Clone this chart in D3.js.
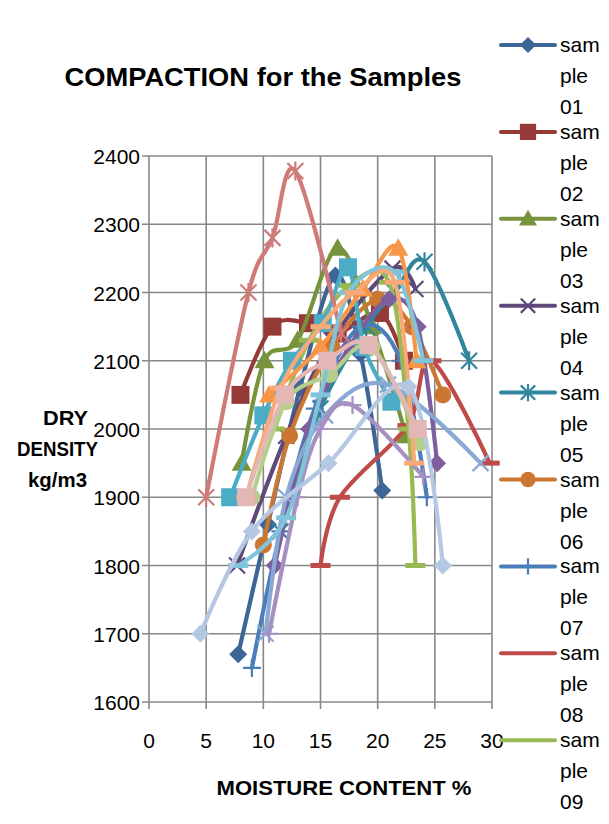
<!DOCTYPE html>
<html><head><meta charset="utf-8">
<script src="https://cdn.jsdelivr.net/npm/d3@7"></script>
<style>html,body{margin:0;padding:0;background:#fff;}</style>
</head><body>
<svg id="chart" width="609" height="824"></svg>
<script>
// ---- data ----
const chartTitle = "COMPACTION for the Samples";
const xTitle = "MOISTURE CONTENT %";
const yTitleLines = ["DRY", "DENSITY", "kg/m3"];
const xTicks = [0, 5, 10, 15, 20, 25, 30];
const yTicks = [1600, 1700, 1800, 1900, 2000, 2100, 2200, 2300, 2400];
const seriesNames = ["sample 01","sample 02","sample 03","sample 04","sample 05","sample 06","sample 07","sample 08","sample 09","sample 10",
  "sample 11","sample 12","sample 13","sample 14","sample 15","sample 16","sample 17","sample 18","sample 19","sample 20"];
const sample01 = [[7.8,1670],[10.4,1860],[13.2,2060],[16.3,2225],[18.5,2110],[20.4,1910]];
const sample02 = [[8,2050],[10.8,2150],[13.9,2155],[16.5,2140],[20.2,2170],[22.3,2100]];
const sample03 = [[8.1,1950],[10.1,2100],[13,2130],[16.5,2265],[19.5,2150],[22.5,1990]];
const sample04 = [[7.7,1800],[12,1990],[16,2130],[21.3,2235],[23.3,2205]];
const sample05 = [[11.5,1850],[15,2030],[19,2150],[21.5,2200],[24.1,2245],[28,2100]];
const sample06 = [[10,1830],[12.3,1990],[16,2120],[20,2190],[23,2150],[25.7,2050]];
const sample07 = [[9,1650],[11.5,1850],[14.5,2030],[18.5,2150],[22,2100],[24.3,1900]];
const sample08 = [[15,1800],[16.7,1900],[22.6,2005],[24.7,2100],[29.8,1950]];
const sample09 = [[11,2000],[14,2130],[17.5,2210],[21,2215],[22.7,2000],[23.3,1800]];
const sample10 = [[11,1800],[14,2000],[17.5,2120],[21,2190],[23.5,2150],[25.2,1950]];
const sample11 = [[7.1,1900],[10,2020],[12.5,2100],[15.2,2155],[17.4,2237],[18.8,2120],[21.2,2040]];
const sample12 = [[10.5,2050],[15,2120],[18.7,2205],[21.8,2265],[23.4,2100]];
const sample13 = [[10.2,1700],[12,1900],[15.4,2020],[20.9,2065],[29,1950]];
const sample14 = [[5,1900],[8.7,2200],[10.8,2280],[12.8,2378],[16.8,2140]];
const sample15 = [[9,1900],[12,2040],[15.8,2080],[19.5,2120],[23.7,1980]];
const sample16 = [[10.5,1700],[13,1900],[15,2000],[17.8,2035],[24,1930]];
const sample17 = [[7.8,1800],[12,1870],[15,2050],[17.5,2200],[21.5,2230],[24,2100]];
const sample18 = [[8.5,1900],[11.5,2060],[15,2150],[18,2200],[21.5,2215],[23.2,1950]];
const sample19 = [[4.5,1700],[9,1850],[15.7,1950],[22.7,2062],[25.7,1800]];
const sample20 = [[8.5,1900],[11.9,2050],[15.6,2100],[19.2,2123],[23.5,2000]];
const seriesData = [sample01,sample02,sample03,sample04,sample05,sample06,sample07,sample08,sample09,sample10,
  sample11,sample12,sample13,sample14,sample15,sample16,sample17,sample18,sample19,sample20];

// ---- styles ----
const colors = ["#3D6697","#963A38","#77933C","#5F497A","#31859C","#CB7731","#4A7EBB","#BE4B48","#98B954","#7D5F9E",
  "#4BACC6","#F79646","#88A8D6","#CF7B7A","#B5CF8A","#A491C1","#80C4D9","#F9A978","#B4C7E3","#E4B7B7"];
const markers = ["diamond","square","triangle","x","star","circle","plus","dash","dash","diamond",
  "square","triangle","x","star","circle","plus","dash","dash","diamond","square"];

const svg = d3.select("#chart");
const FONT = "'Liberation Sans', Arial, sans-serif";
const x = d3.scaleLinear().domain([0,30]).range([149,492]);
const y = d3.scaleLinear().domain([1600,2400]).range([702,156]);

// grid
const grid = svg.append("g").attr("stroke","#888").attr("stroke-width",1.6);
xTicks.forEach(t => grid.append("line").attr("x1",x(t)).attr("x2",x(t)).attr("y1",y(2400)).attr("y2",y(1600)+7));
yTicks.forEach(t => grid.append("line").attr("x1",x(0)-7).attr("x2",x(30)).attr("y1",y(t)).attr("y2",y(t)));

// tick labels
svg.append("g").selectAll("text").data(yTicks).join("text")
  .attr("x",140).attr("y",d=>y(d)+8).attr("text-anchor","end")
  .attr("font-family",FONT).attr("font-size",21).attr("fill","#000").text(d=>d);
svg.append("g").selectAll("text").data(xTicks).join("text")
  .attr("x",d=>x(d)).attr("y",748).attr("text-anchor","middle")
  .attr("font-family",FONT).attr("font-size",21).attr("fill","#000").text(d=>d);

// titles
svg.append("text").attr("x",263).attr("y",86).attr("text-anchor","middle")
  .attr("font-family",FONT).attr("font-weight","bold").attr("font-size",25)
  .attr("textLength",397).attr("lengthAdjust","spacingAndGlyphs").text(chartTitle);
svg.append("text").attr("x",344).attr("y",795).attr("text-anchor","middle")
  .attr("font-family",FONT).attr("font-weight","bold").attr("font-size",20)
  .attr("textLength",255).attr("lengthAdjust","spacingAndGlyphs").text(xTitle);
const yT = [[65.5,425,45],[57.5,456,81],[57.5,487,59]];
yTitleLines.forEach((s,i)=>{
  svg.append("text").attr("x",yT[i][0]).attr("y",yT[i][1]).attr("text-anchor","middle")
    .attr("font-family",FONT).attr("font-weight","bold").attr("font-size",20)
    .attr("textLength",yT[i][2]).attr("lengthAdjust","spacingAndGlyphs").text(s);
});

function drawMarker(g, type, cx, cy, col, scale){
  const s = scale || 1;
  if(type==="diamond"){
    const r=9*s; g.append("path").attr("d",`M${cx},${cy-r}L${cx+r},${cy}L${cx},${cy+r}L${cx-r},${cy}Z`).attr("fill",col);
  } else if(type==="square"){
    const r=9*s; g.append("rect").attr("x",cx-r).attr("y",cy-r).attr("width",2*r).attr("height",2*r).attr("fill",col);
  } else if(type==="triangle"){
    const r=10*s; g.append("path").attr("d",`M${cx},${cy-r}L${cx+r},${cy+r*0.75}L${cx-r},${cy+r*0.75}Z`).attr("fill",col);
  } else if(type==="circle"){
    g.append("circle").attr("cx",cx).attr("cy",cy).attr("r",8.5*s).attr("fill",col);
  } else if(type==="x"){
    const r=8*s; g.append("path").attr("d",`M${cx-r},${cy-r}L${cx+r},${cy+r}M${cx+r},${cy-r}L${cx-r},${cy+r}`).attr("stroke",col).attr("stroke-width",2.2).attr("fill","none");
  } else if(type==="star"){
    const r=8*s; g.append("path").attr("d",`M${cx-r},${cy-r}L${cx+r},${cy+r}M${cx+r},${cy-r}L${cx-r},${cy+r}M${cx},${cy-r*1.2}L${cx},${cy+r*1.2}`).attr("stroke",col).attr("stroke-width",2.2).attr("fill","none");
  } else if(type==="plus"){
    const r=9*s; g.append("path").attr("d",`M${cx-r},${cy}L${cx+r},${cy}M${cx},${cy-r}L${cx},${cy+r}`).attr("stroke",col).attr("stroke-width",2.2).attr("fill","none");
  } else if(type==="dash"){
    g.append("rect").attr("x",cx-10*s).attr("y",cy-2.5*s).attr("width",20*s).attr("height",5*s).attr("fill",col);
  }
}

// series
const line = d3.line().x(d=>x(d[0])).y(d=>y(d[1])).curve(d3.curveCatmullRom.alpha(0));
seriesData.forEach((data,i)=>{
  const g = svg.append("g");
  g.append("path").attr("d",line(data)).attr("fill","none").attr("stroke",colors[i])
    .attr("stroke-width",4.2).attr("stroke-linejoin","round").attr("stroke-linecap","round");
  data.forEach(d=>drawMarker(g, markers[i], x(d[0]), y(d[1]), colors[i]));
});

// legend (only the first 9 entries fit)
const legendY0 = 45, legendStep = 86.9;
seriesNames.slice(0,9).forEach((name,i)=>{
  const ly = legendY0 + i*legendStep;
  const g = svg.append("g");
  g.append("line").attr("x1",501).attr("x2",555).attr("y1",ly).attr("y2",ly)
    .attr("stroke",colors[i]).attr("stroke-width",4).attr("stroke-linecap","round");
  if(markers[i]!=="dash") drawMarker(g, markers[i], 528, ly, colors[i], 0.9);
  const parts = [name.slice(0,3), name.slice(3,6), name.slice(7)];
  parts.forEach((p,j)=>{
    g.append("text").attr("x",560).attr("y",ly+7+j*31).attr("font-family",FONT)
      .attr("font-size",21).attr("fill","#000").text(p);
  });
});
</script>
</body></html>
